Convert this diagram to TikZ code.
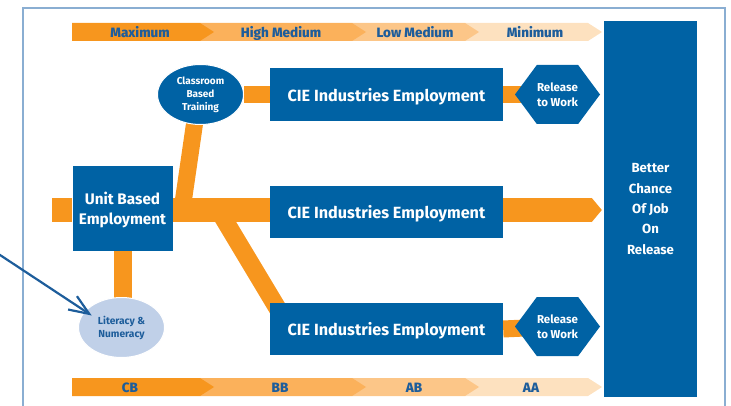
\documentclass[tikz,border=0pt]{standalone}
\usepackage{fontspec}
\setmainfont{Fira Sans}
\newfontfamily\segfont{Fira Sans ExtraBold}
\usetikzlibrary{arrows.meta}
\usetikzlibrary{shapes.geometric,shapes.symbols}
\usetikzlibrary{backgrounds}

\definecolor{ciblue}{HTML}{0062A4}
\definecolor{ciorange}{HTML}{F7961E}
\definecolor{cilight}{HTML}{FBB15B}
\definecolor{cipale}{HTML}{FCC688}
\definecolor{cipaler}{HTML}{FDE1BF}
\definecolor{citext}{HTML}{1D5D9B}
\definecolor{cilit}{HTML}{C0D0E8}
\definecolor{ciframe}{HTML}{8AAED2}

\begin{document}
\begin{tikzpicture}[x=1pt,y=-1pt,
    box/.style={rectangle, fill=ciblue, text=white, inner sep=0pt, align=center},
    ciebox/.style={box, minimum width=233pt, minimum height=52pt, text depth=0pt,
      font=\bfseries\fontsize{16.2}{18}\selectfont},
    release/.style={signal, signal to=west and east, signal pointer angle=107,
      fill=ciblue, text=white, inner sep=0pt, minimum width=85pt, minimum height=59pt,
      align=center, font=\bfseries\fontsize{11.5}{15}\selectfont},
    bar/.style={draw=ciorange},
    segtext/.style={anchor=base, text=citext, font=\segfont\fontsize{13.5}{15}\selectfont}]
      \def\tipw{14}

      \clip (0,0) rectangle (731,406);
      \draw[ciframe, line width=1.5pt] (23,8) rectangle (725,430);

      % top scale
      \fill[cipaler] (465,23) -- (588,23) -- (588+\tipw,32) -- (588,41) -- (465,41) -- cycle;
      \fill[cipale] (352,23) -- (465,23) -- (465+\tipw,32) -- (465,41) -- (352,41) -- cycle;
      \fill[cilight] (200,23) -- (352,23) -- (352+\tipw,32) -- (352,41) -- (200,41) -- cycle;
      \fill[ciorange] (72,23) -- (200,23) -- (200+\tipw,32) -- (200,41) -- (72,41) -- cycle;
      \node[segtext] (lmax) at (140,37.3) {Maximum};
      \node[segtext] (lhigh) at (281,37.3) {High Medium};
      \node[segtext] (llow) at (415,37.3) {Low Medium};
      \node[segtext] (lmin) at (535,37.3) {Minimum};

      % bottom scale
      \fill[cipaler] (465,378) -- (588,378) -- (588+\tipw,387) -- (588,396) -- (465,396) -- cycle;
      \fill[cipale] (352,378) -- (465,378) -- (465+\tipw,387) -- (465,396) -- (352,396) -- cycle;
      \fill[cilight] (200,378) -- (352,378) -- (352+\tipw,387) -- (352,396) -- (200,396) -- cycle;
      \fill[ciorange] (72,378) -- (200,378) -- (200+\tipw,387) -- (200,396) -- (72,396) -- cycle;
      \node[segtext] (lcb) at (130,392.5) {CB};
      \node[segtext] (lbb) at (280,392.5) {BB};
      \node[segtext] (lab) at (414,392.5) {AB};
      \node[segtext] (laa) at (531,392.5) {AA};

      % boxes
      \node[box, minimum width=93pt, minimum height=376pt,
        font=\bfseries\fontsize{13.2}{20.3}\selectfont] (better) at (650.5,209)
        {Better\\Chance\\Of Job\\On\\Release};
      \node[ciebox, minimum height=53pt] (cie1) at (386.5,94.5) {CIE Industries Employment};
      \node[ciebox] (cie2) at (386.5,212) {CIE Industries Employment};
      \node[ciebox] (cie3) at (386.5,329) {CIE Industries Employment};
      \node[box, minimum width=100pt, minimum height=85pt, text depth=0pt,
        font=\bfseries\fontsize{15.3}{19.8}\selectfont] (ubox) at (122.5,208.5) {Unit Based\\Employment};
      \node[release] (rel1) at (557.5,94.5) {Release\\to Work};
      \node[release] (rel2) at (557.5,326.5) {Release\\to Work};
      \node[ellipse, fill=ciblue, draw=white, line width=1pt, text=white, inner sep=0pt,
        minimum width=86pt, minimum height=60pt, align=center,
        font=\bfseries\fontsize{10}{13}\selectfont] (cls) at (200.5,94.5) {Classroom\\Based\\Training};
      \node[ellipse, fill=cilit, draw=white, line width=1pt, text=citext, inner sep=0pt,
        minimum width=86pt, minimum height=60pt, align=center,
        font=\bfseries\fontsize{10.2}{13}\selectfont] (lit) at (121.5,327.5) {Literacy \&\\Numeracy};

      \coordinate (stub) at (52,210);
      \coordinate (jn1) at (182,210);
      \coordinate (jn2) at (218.5,210);
      \coordinate (dg) at (284.5,320);
      \coordinate (src) at (-5,251.7);

      \begin{scope}[on background layer]
      \draw[bar, line width=23.5pt] (stub) -- (stub -| ubox.west);
      \draw[bar, line width=23.5pt] (ubox.east |- jn1) -- (jn1 -| cie2.west);
      \draw[bar, line width=17pt] ([xshift=-5pt,yshift=8pt]cls.south) -- (jn1);
      \draw[bar, line width=18pt] (jn2) -- (dg);
      \draw[bar, line width=17pt] (cls.east) -- (cie1.west);
      \draw[bar, line width=17pt] (cie1.east) -- (rel1.center);
      \draw[bar, line width=17pt] (cie3.east) -- (rel2.center);
      \draw[bar, line width=18pt] (ubox.south) -- (ubox.south |- lit.center);
      \end{scope}
      \draw[bar, line width=23.5pt, -{Triangle[length=10pt,width=23.5pt]}]
        (jn1 -| cie2.east) -- ([xshift=-2pt]jn1 -| better.west);

      \draw[citext, line width=2.2pt, -{Straight Barb[length=20pt,width=16pt]}]
        (src) -- ([xshift=-29.8pt,yshift=12pt]lit.center);

    \end{tikzpicture}
\end{document}
